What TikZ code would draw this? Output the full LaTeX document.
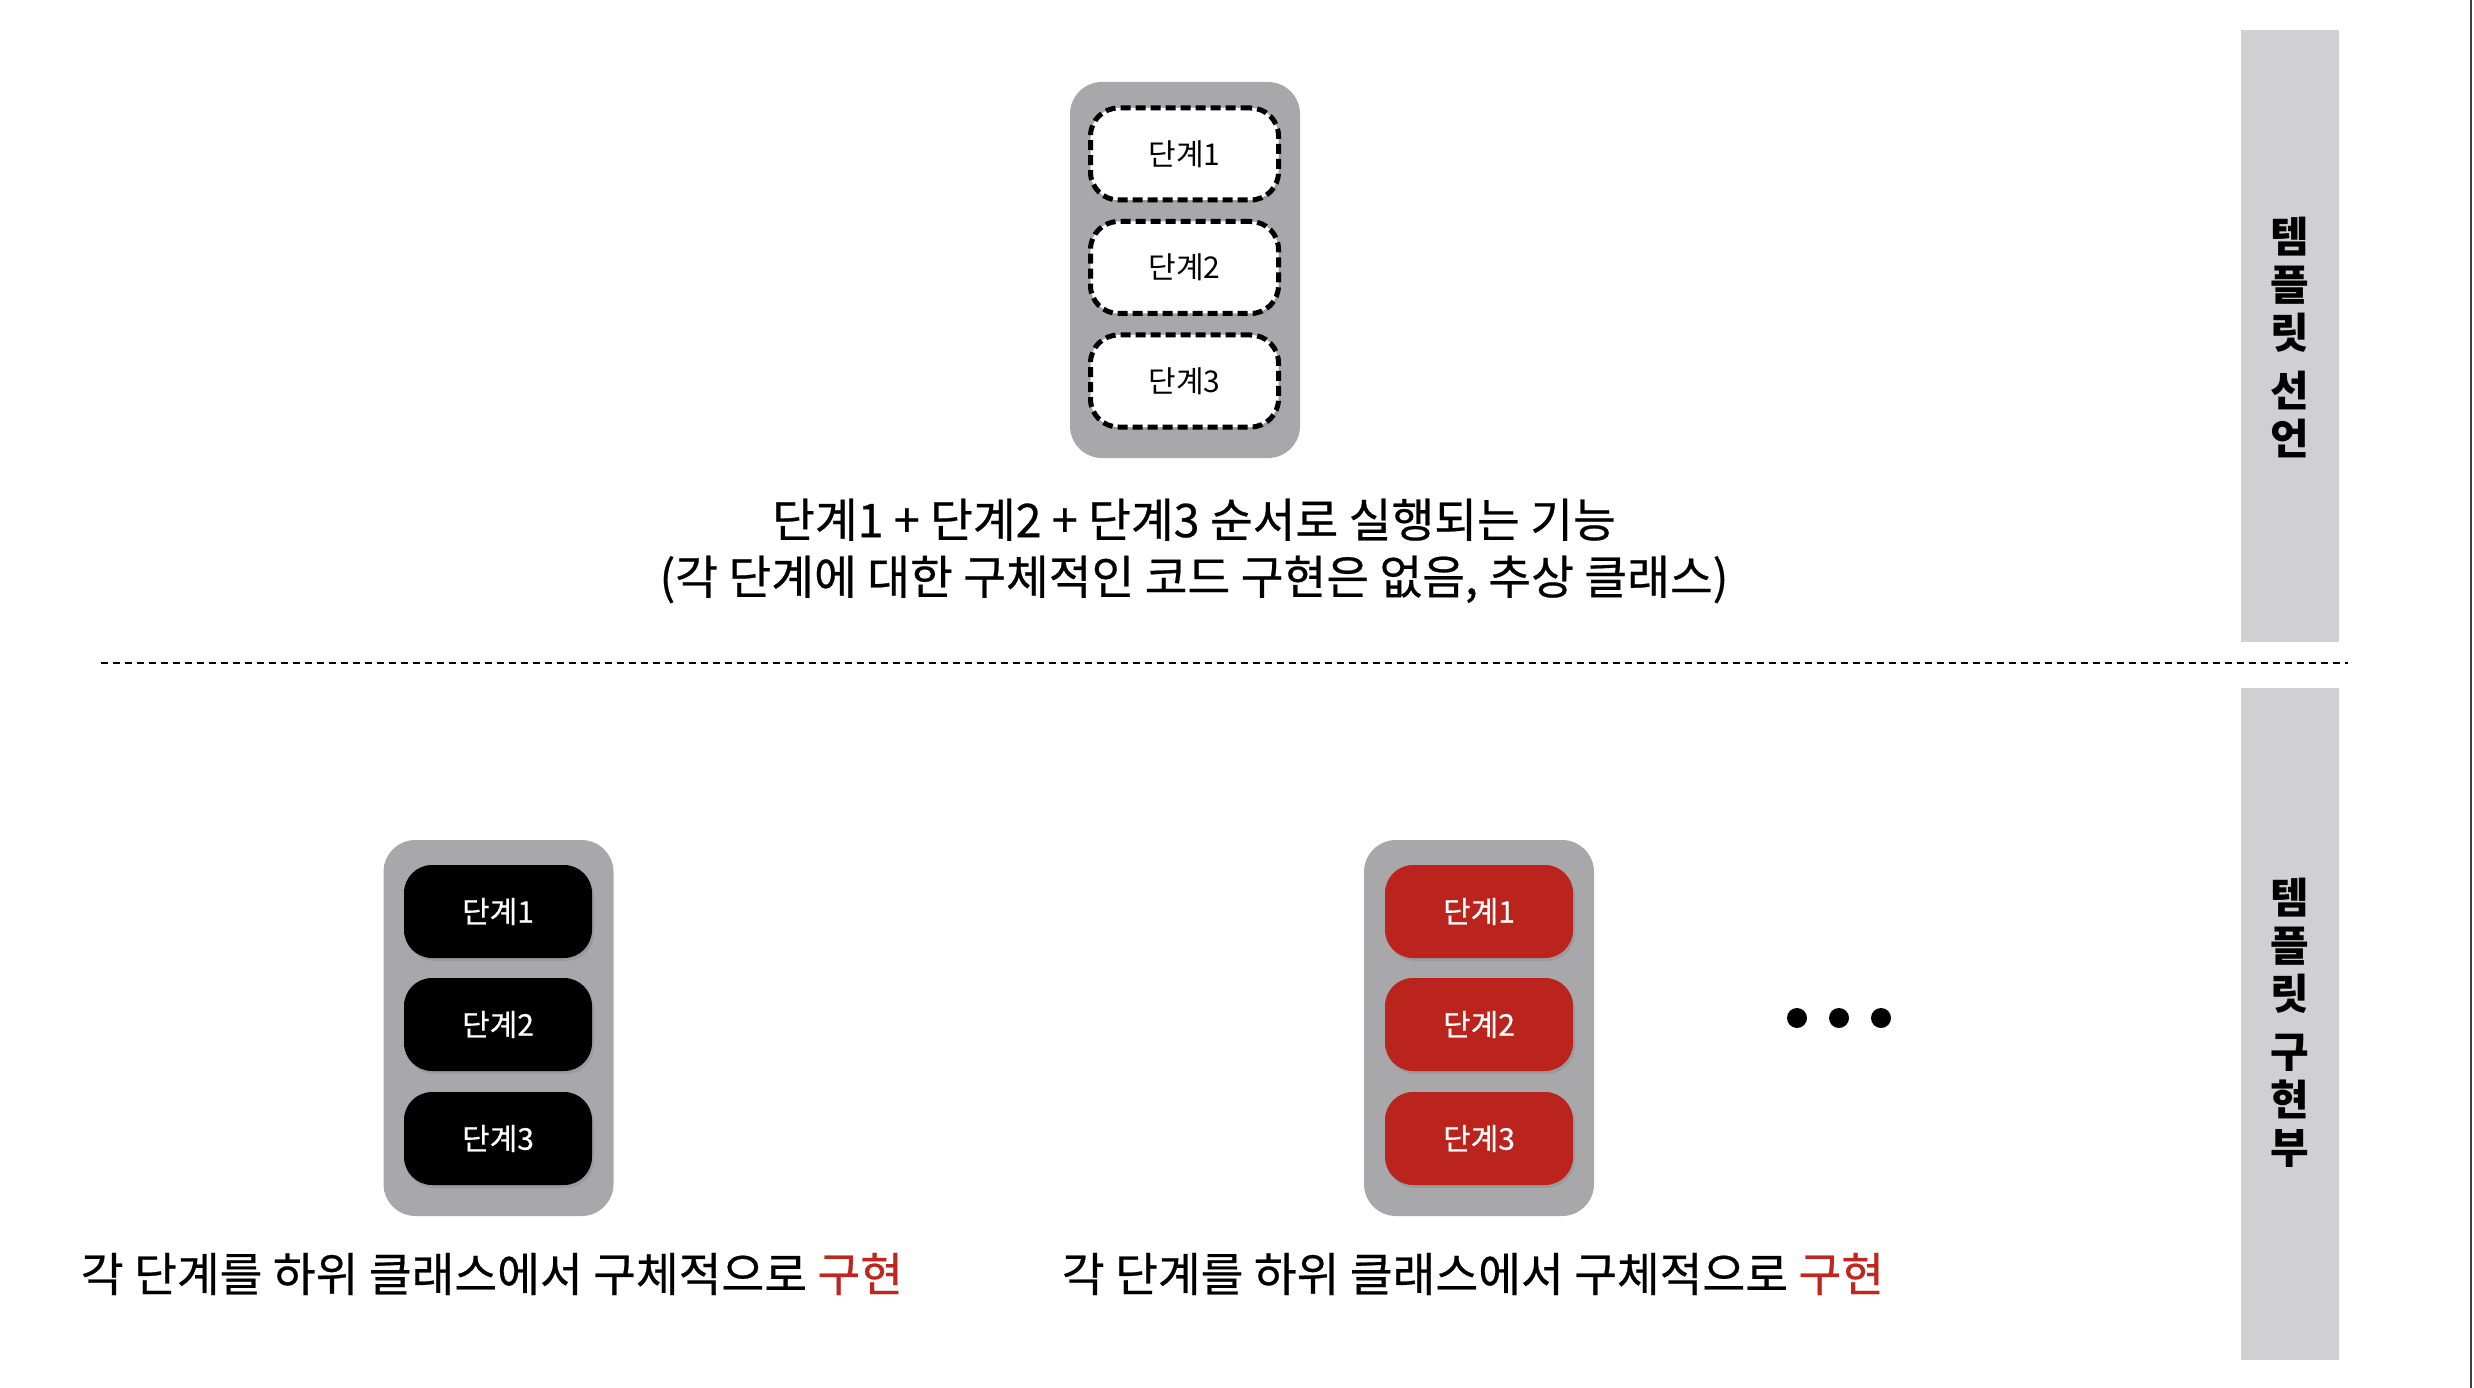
\documentclass[tikz,border=0pt]{standalone}
\usepackage{fontspec}
\setmainfont{Noto Sans CJK KR}
\newfontfamily\medfont{Noto Sans CJK KR}[FakeBold=0.5]
\usetikzlibrary{shadows}
\definecolor{contgray}{RGB}{168,168,170}
\definecolor{bargray}{RGB}{208,208,210}
\definecolor{stepred}{RGB}{186,36,28}
\definecolor{txtred}{RGB}{192,38,30}
\tikzset{
  container/.style={fill=contgray, draw=none, rounded corners=32pt, minimum width=230pt, minimum height=376pt, inner sep=0pt},
  absstep/.style={fill=white, draw=black, line width=5pt, dash pattern=on 10pt off 5pt, rounded corners=28pt,
     minimum width=188pt, minimum height=92pt, inner sep=0pt, font=\fontsize{30}{32}\selectfont,
     drop shadow={opacity=0.25, shadow xshift=2pt, shadow yshift=-3pt}},
  blackstep/.style={fill=black, draw=none, rounded corners=28pt, text=white,
     minimum width=188pt, minimum height=93pt, inner sep=0pt, font=\fontsize{30}{32}\selectfont\medfont,
     drop shadow={opacity=0.3, shadow xshift=2pt, shadow yshift=-3pt}},
  redstep/.style={blackstep, fill=stepred},
  sidebar/.style={fill=bargray, draw=none, minimum width=98pt, inner sep=0pt},
  vlabel/.style={font=\fontsize{42}{48}\selectfont\bfseries, align=center, inner sep=0pt},
  caption/.style={font=\fontsize{46.5}{57}\selectfont\medfont, align=center, inner sep=0pt},
  dot/.style={circle, fill=black, minimum size=20pt, inner sep=0pt}
}
\begin{document}
\begin{tikzpicture}[x=1pt,y=-1pt]
\useasboundingbox[fill=white] (0,0) rectangle (2474,1388);

% right edge line
\coordinate (edgeT) at (2471,0);
\coordinate (edgeB) at (2471,1388);
\draw[line width=2pt, black!75] (edgeT) -- (edgeB);

% side bars
\node[sidebar, minimum height=612pt] (bar1) at (2290,336) {};
\node[sidebar, minimum height=672pt] (bar2) at (2290,1024) {};
\node[vlabel] (v1) at (2290,337) {템\\플\\릿\\[10pt]선\\언};
\node[vlabel] (v2) at (2290,1023) {템\\플\\릿\\[10pt]구\\현\\부};

% top template
\node[container] (topc) at (1185,270) {};
\node[absstep] (t1) at (1184.5,154) {단계1};
\node[absstep] (t2) at (1184.5,267.5) {단계2};
\node[absstep] (t3) at (1184.5,381) {단계3};
\node[caption] (tcap) at (1194,551) {단계1 + 단계2 + 단계3 순서로 실행되는 기능\\(각 단계에 대한 구체적인 코드 구현은 없음, 추상 클래스)};

% separator
\coordinate (sepL) at (101,663);
\coordinate (sepR) at (2348,663);
\draw[line width=2pt, dash pattern=on 7pt off 5pt] (sepL) -- (sepR);

% bottom left
\node[container] (blc) at (498.5,1028) {};
\node[blackstep] (b1) at (498,911.5) {단계1};
\node[blackstep] (b2) at (498,1024.5) {단계2};
\node[blackstep] (b3) at (498,1138.5) {단계3};
\node[caption] (bcap1) at (492,1274) {각 단계를 하위 클래스에서 구체적으로 \textcolor{txtred}{구현}};

% bottom right
\node[container] (brc) at (1479,1028) {};
\node[redstep] (r1) at (1479,911.5) {단계1};
\node[redstep] (r2) at (1479,1024.5) {단계2};
\node[redstep] (r3) at (1479,1138.5) {단계3};
\node[caption] (bcap2) at (1473,1274) {각 단계를 하위 클래스에서 구체적으로 \textcolor{txtred}{구현}};

% dots
\node[dot] (d1) at (1797,1018) {};
\node[dot] (d2) at (1839,1018) {};
\node[dot] (d3) at (1881,1018) {};
\end{tikzpicture}
\end{document}
